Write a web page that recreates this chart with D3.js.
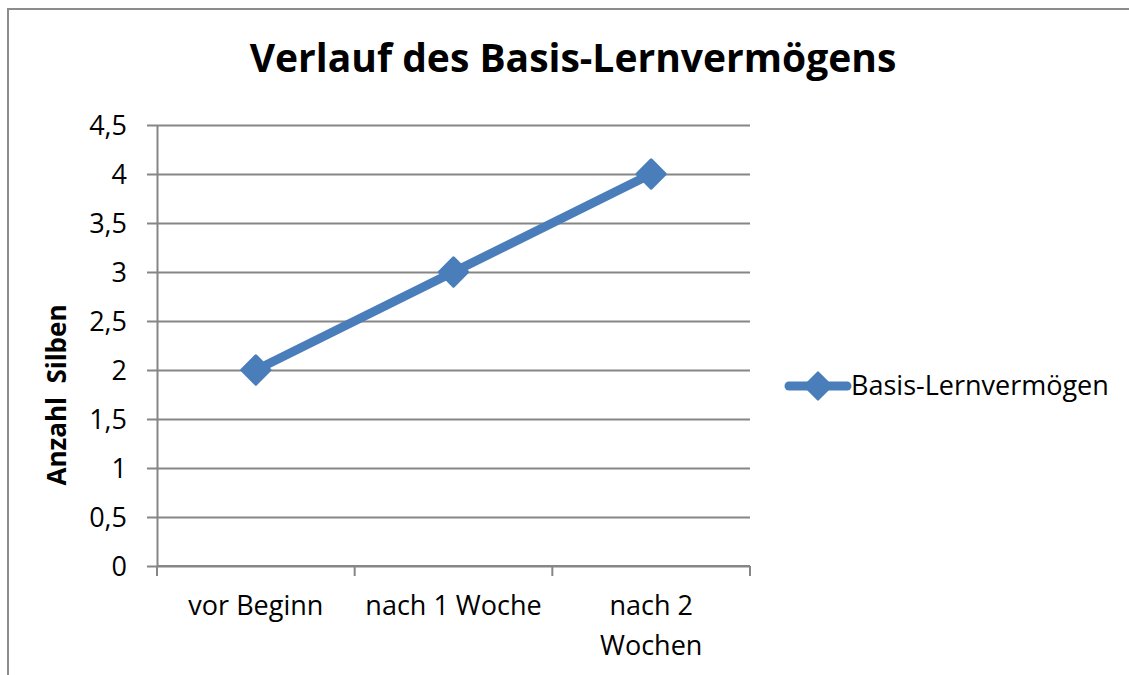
<!DOCTYPE html>
<html>
<head>
<meta charset="utf-8">
<script src="https://cdn.jsdelivr.net/npm/d3@7"></script>
<style>
  body { margin: 0; background: #fff; }
  text { font-family: "Open Sans", sans-serif; fill: #000; }
</style>
</head>
<body>
<div id="vis"></div>
<script>
const categories = [["vor Beginn"], ["nach 1 Woche"], ["nach 2", "Wochen"]];
const values = [2, 3, 4];
const yTicks = [0, 0.5, 1, 1.5, 2, 2.5, 3, 3.5, 4, 4.5];
const seriesName = "Basis-Lernvermögen";
const titleText = "Verlauf des Basis-Lernvermögens";
const yLabelText = "Anzahl\u00a0\u00a0Silben";

const W = 1129, H = 675;
const margin = {top: 125, left: 157, right: 379, bottom: 109};
const width = W - margin.left - margin.right;
const height = H - margin.top - margin.bottom;
const blue = "#4a7ebb";
const grey = "#868686";

const svg = d3.select('#vis').append('svg')
    .attr('width', W)
    .attr('height', H);

// chart frame (only top and left edges are visible)
svg.append('path')
    .attr('d', `M8,${H} L8,9 L${W},9`)
    .attr('fill', 'none')
    .attr('stroke', '#8c8c8c')
    .attr('stroke-width', 2);

const g = svg.append('g')
    .attr('transform', `translate(${margin.left},${margin.top})`);

const xScale = d3.scaleBand()
    .domain(categories.map(d => d.join(' ')))
    .range([0, width]);
const yScale = d3.scaleLinear()
    .domain([0, 4.5])
    .range([height, 0]);

// gridlines + y axis
const yAxis = g.append('g')
    .call(d3.axisLeft(yScale)
        .tickValues(yTicks)
        .tickSize(-width)
        .tickSizeOuter(0)
        .tickFormat(d => d3.format('~g')(d).replace('.', ',')));
yAxis.select('.domain').attr('stroke', grey).attr('stroke-width', 2);
yAxis.selectAll('.tick line')
    .attr('x1', -10)
    .attr('stroke', grey)
    .attr('stroke-width', 2);
yAxis.selectAll('.tick text')
    .attr('x', -30)
    .attr('dy', '0.36em')
    .style('font-size', '27px')
    .style('font-family', '"Open Sans", sans-serif');

// x axis
const xAxis = g.append('g')
    .attr('transform', `translate(0,${height})`);
xAxis.append('line')
    .attr('x1', 0).attr('x2', width)
    .attr('stroke', grey).attr('stroke-width', 2);
const boundaries = xScale.domain().map(d => xScale(d)).concat([width]);
xAxis.selectAll('line.tk')
    .data(boundaries)
    .join('line')
    .attr('class', 'tk')
    .attr('x1', d => d).attr('x2', d => d)
    .attr('y1', 0).attr('y2', 10)
    .attr('stroke', grey).attr('stroke-width', 2);
xAxis.selectAll('text.lbl')
    .data(categories)
    .join('text')
    .attr('class', 'lbl')
    .attr('text-anchor', 'middle')
    .attr('transform', d => `translate(${xScale(d.join(' ')) + xScale.bandwidth() / 2},49)`)
    .style('font-size', '27px')
    .each(function(lines) {
        d3.select(this).selectAll('tspan')
            .data(lines)
            .join('tspan')
            .attr('x', 0)
            .attr('dy', (d, i) => i === 0 ? 0 : 40)
            .text(d => d);
    });

// line series
const line = d3.line()
    .x((d, i) => xScale(categories[i].join(' ')) + xScale.bandwidth() / 2)
    .y(d => yScale(d));

g.append('path')
    .datum(values)
    .attr('d', line)
    .attr('fill', 'none')
    .attr('stroke', blue)
    .attr('stroke-width', 9)
    .attr('stroke-linejoin', 'round');

const diamond = d3.symbol().type(d3.symbolSquare).size(400);
g.selectAll('path.marker')
    .data(values)
    .join('path')
    .attr('class', 'marker')
    .attr('d', diamond)
    .attr('transform', (d, i) => `translate(${xScale(categories[i].join(' ')) + xScale.bandwidth() / 2},${yScale(d)}) rotate(45)`)
    .attr('fill', blue)
    .attr('stroke', blue)
    .attr('stroke-width', 3)
    .attr('stroke-linejoin', 'round');

// title
svg.append('text')
    .attr('x', 573)
    .attr('y', 72)
    .attr('text-anchor', 'middle')
    .style('font-size', '39px')
    .style('font-weight', 'bold')
    .text(titleText);

// y axis label
svg.append('text')
    .attr('transform', 'translate(66,395) rotate(-90)')
    .attr('text-anchor', 'middle')
    .style('font-size', '26px')
    .style('font-weight', 'bold')
    .text(yLabelText);

// legend
const legend = svg.append('g').attr('transform', 'translate(789,386)');
legend.append('line')
    .attr('x1', 0).attr('x2', 58)
    .attr('stroke', blue)
    .attr('stroke-width', 9)
    .attr('stroke-linecap', 'round');
legend.append('path')
    .attr('d', d3.symbol().type(d3.symbolSquare).size(340))
    .attr('transform', 'translate(29,0) rotate(45)')
    .attr('fill', blue)
    .attr('stroke', blue)
    .attr('stroke-width', 3)
    .attr('stroke-linejoin', 'round');
legend.append('text')
    .attr('x', 62)
    .attr('y', 9)
    .style('font-size', '27px')
    .text(seriesName);
</script>
</body>
</html>
